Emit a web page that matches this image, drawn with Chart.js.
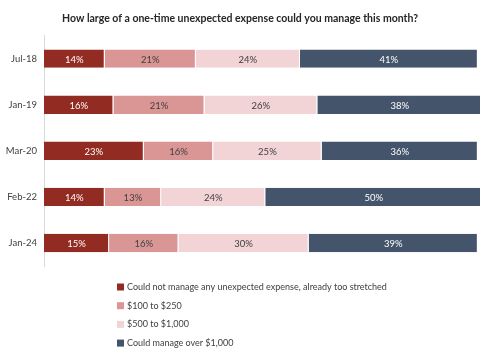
<!DOCTYPE html>
<html>
<head>
<meta charset="utf-8">
<script src="https://cdn.jsdelivr.net/npm/chart.js@4/dist/chart.umd.min.js"></script>
<style>
  html, body { margin: 0; padding: 0; background: #fff; }
  #wrap { width: 491px; height: 354px; }
</style>
</head>
<body>
<div id="wrap"><canvas id="barChart"></canvas></div>
<script>
// données
const periodes = ["Jul-18", "Jan-19", "Mar-20", "Feb-22", "Jan-24"];
const pasPossible = [14, 16, 23, 14, 15];
const de100a250 = [21, 21, 16, 13, 16];
const de500a1000 = [24, 26, 25, 24, 30];
const plusDe1000 = [41, 38, 36, 50, 39];

const seriesNoms = [
    "Could not manage any unexpected expense, already too stretched",
    "$100 to $250",
    "$500 to $1,000",
    "Could manage over $1,000"
];
const couleurs = ["#922B21", "#D99694", "#F2D4D6", "#44546A"];
const couleursTexte = ["#ffffff", "#404040", "#404040", "#ffffff"];
const police = "Lato, 'Open Sans', sans-serif";

const valeurs = [pasPossible, de100a250, de500a1000, plusDe1000];

// étiquettes dans les barres
const etiquettesPlugin = {
    id: "etiquettes",
    afterDatasetsDraw(chart) {
        const ctx = chart.ctx;
        ctx.save();
        ctx.font = "9.5px " + police;
        ctx.textAlign = "center";
        ctx.textBaseline = "middle";
        chart.data.datasets.forEach((ds, i) => {
            const meta = chart.getDatasetMeta(i);
            meta.data.forEach((bar, j) => {
                const p = bar.getCenterPoint();
                ctx.fillStyle = couleursTexte[i];
                ctx.fillText(ds.data[j] + "%", p.x, p.y + 1);
            });
        });
        ctx.restore();
    }
};

// légende verticale en bas
const legendePlugin = {
    id: "legendeVerticale",
    afterDraw(chart) {
        const ctx = chart.ctx;
        ctx.save();
        ctx.font = "9px " + police;
        ctx.textBaseline = "middle";
        chart.data.datasets.forEach((ds, i) => {
            const y = 287 + i * 18.7;
            ctx.fillStyle = ds.backgroundColor;
            ctx.fillRect(117, y - 3.5, 7, 7);
            ctx.fillStyle = "#404040";
            ctx.fillText(ds.label, 127, y);
        });
        ctx.restore();
    }
};

const donnees = {
    labels: periodes,
    datasets: valeurs.map((v, i) => ({
        label: seriesNoms[i],
        data: v,
        backgroundColor: couleurs[i],
        borderColor: "#ffffff",
        borderWidth: { right: 1 },
        borderSkipped: false,
        barPercentage: 0.4,
        categoryPercentage: 1.0
    }))
};

const ctx = document.getElementById("barChart");
let barresEmpilees = new Chart(ctx, {
    type: "bar",
    data: donnees,
    plugins: [etiquettesPlugin, legendePlugin],
    options: {
        indexAxis: "y",
        responsive: true,
        maintainAspectRatio: false,
        animation: false,
        layout: {
            padding: { left: 0, right: 11, top: 4, bottom: 88 }
        },
        plugins: {
            legend: { display: false },
            tooltip: { enabled: false },
            title: {
                display: true,
                text: "How large of a one-time unexpected expense could you manage this month?",
                color: "#262626",
                font: { family: police, size: 10.5, weight: "bold" },
                padding: { top: 8, bottom: 11 }
            }
        },
        scales: {
            x: {
                stacked: true,
                display: false,
                min: 0,
                max: 100.5
            },
            y: {
                stacked: true,
                grid: { display: false, drawTicks: false },
                border: { display: true, color: "#D9D9D9", width: 1 },
                ticks: {
                    color: "#404040",
                    font: { family: police, size: 9.5 },
                    padding: 7
                },
                afterFit(scale) {
                    scale.width = 44;
                }
            }
        }
    }
});
</script>
</body>
</html>
